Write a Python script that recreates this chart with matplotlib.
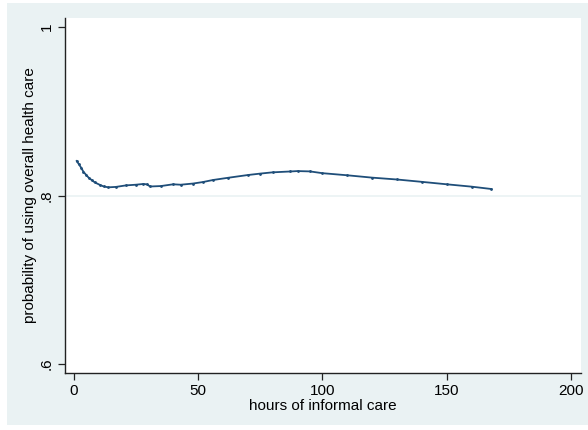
import numpy as np
import matplotlib
matplotlib.use("Agg")
import matplotlib.pyplot as plt
from matplotlib.patches import Rectangle

plt.rcParams['font.family'] = ['Liberation Sans', 'DejaVu Sans']

# data
hours = [1.2, 2, 3, 3.9, 5, 6, 7.2, 8.5, 10.6, 12, 13.9, 17, 21, 25, 28, 29.5, 30.7,
         35, 40, 43, 48, 52, 56, 62, 70, 75, 80, 87, 90, 95, 100, 110, 120, 130,
         140, 150, 160, 168]
prob = [0.841, 0.8375, 0.833, 0.8282, 0.8245, 0.8212, 0.8184, 0.8155, 0.8125, 0.8108,
        0.8097, 0.8102, 0.812, 0.8128, 0.8137, 0.8132, 0.8107, 0.8112, 0.8133, 0.8128,
        0.8142, 0.816, 0.8184, 0.821, 0.8243, 0.826, 0.8275, 0.8285, 0.829, 0.8286,
        0.8265, 0.824, 0.8212, 0.819, 0.8162, 0.8133, 0.8105, 0.8077]
xticks = [0, 50, 100, 150, 200]
yticks = [0.6, 0.8, 1.0]
ytick_labels = ['.6', '.8', '1']

W, H = 588, 430
fig = plt.figure(figsize=(W / 100, H / 100), dpi=100, facecolor='white')
# stata-like outer background
fig.patches.append(Rectangle((7 / W, (H - 425) / H), (W - 7) / W, (425 - 3) / H,
                             transform=fig.transFigure, facecolor='#eaf2f3',
                             edgecolor='none', zorder=-10))

ax = fig.add_axes([65 / W, (H - 373) / H, (581 - 65) / W, (373 - 18) / H])
ax.set_facecolor('white')

ax.axhline(0.8, color='#eaf2f3', lw=1.2, zorder=1)
ax.plot(hours, prob, color='#1f4e79', lw=1.3, marker='o', ms=1.0, zorder=3)

ax.set_xlim(-3.5, 204)
ax.set_ylim(0.5893, 1.0107)
ax.set_xticks(xticks)
ax.set_yticks(yticks)
ax.set_yticklabels(ytick_labels, rotation=90, va='center')

for s in ['top', 'right']:
    ax.spines[s].set_visible(False)
for s in ['left', 'bottom']:
    ax.spines[s].set_color('#222222')
    ax.spines[s].set_linewidth(1.0)
ax.tick_params(axis='both', length=5, width=0.9, color='#222222', labelsize=11,
               labelcolor='black', pad=3)

ax.set_xlabel('hours of informal care', fontsize=11, labelpad=1)
ax.set_ylabel('probability of using overall health care', fontsize=11, labelpad=2)

fig.savefig('out.png', dpi=100, facecolor='white')
